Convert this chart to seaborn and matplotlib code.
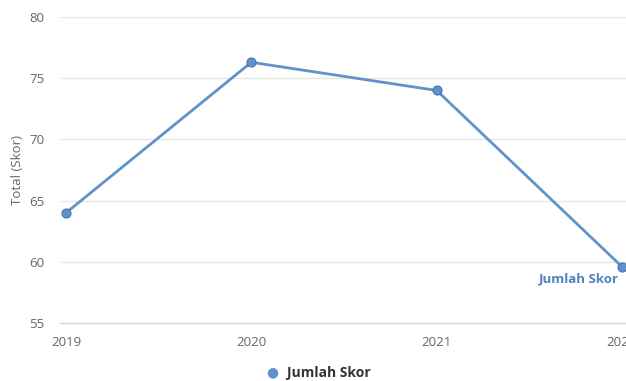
import matplotlib
matplotlib.use("Agg")
import matplotlib.pyplot as plt
import seaborn as sns
import pandas as pd

years = [2019, 2020, 2021, 2022]
scores = [64.0, 76.3, 74.0, 59.6]
series_name = "Jumlah Skor"
y_ticks = [55, 60, 65, 70, 75, 80]

df = pd.DataFrame({"Tahun": years, "Skor": scores, "Seri": series_name})

sns.set_theme(style="white")
plt.rcParams['font.family'] = ['Open Sans', 'DejaVu Sans']

fig = plt.figure(figsize=(6.26, 3.81), dpi=100)
ax = fig.add_axes([60/626, 1-323/381, 566/626, 306/381])

line_color = "#6093c9"
sns.lineplot(data=df, x="Tahun", y="Skor", ax=ax, color=line_color, linewidth=2,
             marker="o", markersize=6.5, markeredgecolor="#4476b0", markeredgewidth=0.8,
             legend=False)

ax.set_xlim(2019 - 6/185.3, 2022 + 4/185.3)
ax.set_ylim(55, 80)
ax.set_yticks(y_ticks)
ax.set_xticks(years)
ax.set_xticklabels([str(y) for y in years])
ax.grid(axis="y", color="#e6e6e6", linewidth=1)
ax.set_axisbelow(True)
for s in ["top", "right", "left"]:
    ax.spines[s].set_visible(False)
ax.spines["bottom"].set_color("#ccd6eb")
ax.spines["bottom"].set_linewidth(1)
ax.tick_params(axis="x", length=8, color="#ccd6eb", labelsize=9.5, labelcolor="#666666", pad=1, direction="out")
ax.tick_params(axis="y", length=0, labelsize=9.5, labelcolor="#666666", pad=11)
ax.set_xlabel("")
ax.set_ylabel("Total (Skor)", fontsize=9.5, color="#666666", labelpad=4)

# end-of-series label
ax.annotate(series_name, xy=(years[-1], scores[-1]), xytext=(-2, -9), textcoords="offset points",
            ha="right", va="center", fontsize=9.5, fontweight="bold", color="#4f81bd")

# legend
fig.text(272/626, 1-373/381, "\u25cf", ha="center", va="center", fontsize=10, color=line_color)
fig.text(287/626, 1-373/381, series_name, ha="left", va="center", fontsize=10,
         fontweight="bold", color="#333333")

fig.savefig("out.png", dpi=100)
